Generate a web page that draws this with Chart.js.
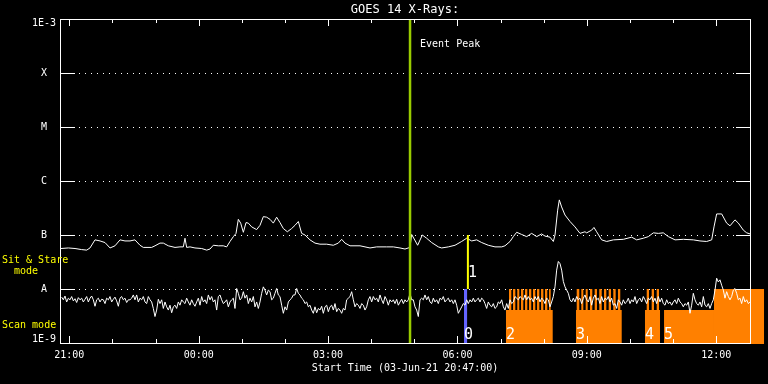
<!DOCTYPE html>
<html><head><meta charset="utf-8">
<script src="https://cdn.jsdelivr.net/npm/chart.js@4.4.1/dist/chart.umd.min.js"></script>
<style>html,body{margin:0;padding:0;background:#000;overflow:hidden}</style>
</head><body>
<canvas id="c" width="768" height="384"></canvas>
<script>
// ---------- DATA (time = minutes after start 03-Jun-21 20:47:00) ----------
const chartTitle = 'GOES 14 X-Rays:';
const xAxisTitle = 'Start Time (03-Jun-21 20:47:00)';
const xMaxMin = 960;
const hourTickMin = [13,73,133,193,253,313,373,433,493,553,613,673,733,793,853,913];
const labeledTickMin = [13,193,373,553,733,913];
const labeledTickText = ['21:00','00:00','03:00','06:00','09:00','12:00'];
const yTickValues = [1e-9,1e-8,1e-7,1e-6,1e-5,1e-4,1e-3];
const yTickLabels = ['1E-9','A','B','C','M','X','1E-3'];

// long channel (1-8 A): times and log10 flux
const longT = [1.4,11.6,20.9,30.1,37.1,41.7,48.7,55.7,62.6,69.6,76.5,83.5,90.4,97.4,104.3,111.3,115.9,127.5,132.2,139.1,
143.8,150.7,160.0,166.9,171.6,173.9,176.2,180.9,187.8,197.1,204.1,208.7,213.3,220.3,227.2,231.9,236.5,241.2,
244.9,248.1,251.4,255.1,258.8,262.0,266.7,273.6,278.3,282.9,287.5,292.2,296.8,301.4,306.1,310.7,316.3,322.3,327.0,331.6,
336.2,340.9,347.8,354.8,361.7,371.0,380.3,387.2,391.9,396.5,403.5,417.4,431.3,440.6,454.5,463.8,473.0,480.0,486.9,
489.3,497.6,504.1,510.1,517.1,526.4,531.0,540.3,549.6,558.8,565.8,572.8,579.7,586.7,595.9,605.2,614.5,619.1,626.1,630.7,
635.4,642.3,649.3,656.2,663.2,670.1,674.8,681.7,686.4,688.7,692.4,694.7,697.9,702.6,709.6,716.5,723.5,730.4,
732.8,739.7,742.9,746.6,753.6,760.6,769.9,783.8,795.4,802.3,811.6,818.6,825.5,832.5,839.4,846.4,855.7,867.3,881.2,890.4,
899.7,906.7,909.9,913.6,920.6,927.5,932.2,939.1,943.8,950.7,955.4,960.0];
const longLogFlux = [-7.25,-7.24,-7.25,-7.27,-7.28,-7.24,-7.09,-7.11,-7.14,-7.24,-7.20,-7.09,-7.11,-7.11,-7.09,-7.19,-7.23,-7.23,-7.20,-7.15,
-7.15,-7.20,-7.23,-7.22,-7.22,-7.06,-7.23,-7.22,-7.24,-7.25,-7.28,-7.26,-7.19,-7.20,-7.20,-7.22,-7.12,-7.03,
-6.97,-6.71,-6.78,-6.95,-6.77,-6.78,-6.85,-6.90,-6.82,-6.66,-6.67,-6.71,-6.78,-6.67,-6.77,-6.88,-6.94,-6.88,-6.82,-6.75,
-6.97,-7.00,-7.09,-7.15,-7.17,-7.17,-7.19,-7.15,-7.08,-7.15,-7.20,-7.20,-7.24,-7.22,-7.22,-7.22,-7.24,-7.26,-7.23,
-6.99,-7.19,-7.00,-7.06,-7.14,-7.22,-7.24,-7.22,-7.19,-7.12,-7.06,-7.11,-7.09,-7.14,-7.19,-7.22,-7.22,-7.20,-7.12,-7.03,
-6.95,-6.99,-7.03,-6.97,-7.03,-6.98,-7.02,-7.04,-7.12,-7.00,-6.54,-6.35,-6.48,-6.63,-6.75,-6.85,-6.97,-6.94,
-6.96,-6.91,-6.86,-6.94,-7.09,-7.12,-7.09,-7.08,-7.04,-7.09,-7.06,-7.03,-6.96,-6.97,-6.96,-7.03,-7.09,-7.08,-7.09,-7.11,
-7.12,-7.09,-6.85,-6.61,-6.61,-6.78,-6.83,-6.72,-6.78,-6.91,-6.96,-6.98];

// short channel (0.5-4 A): regular cadence samples, log10 flux
const shortFirstMin = 2.32, shortCadenceMin = 2.3188;
const shortLogFlux = [
-8.15,-8.20,-8.13,-8.24,-8.17,-8.20,-8.14,-8.22,-8.18,-8.25,-8.16,-8.20,-8.17,-8.24,-8.19,-8.14,-8.24,-8.17,-8.13,-8.20,
-8.32,-8.20,-8.17,-8.24,-8.19,-8.20,-8.27,-8.17,-8.20,-8.14,-8.24,-8.19,-8.15,-8.22,-8.32,-8.17,-8.14,-8.20,-8.17,-8.25,
-8.20,-8.20,-8.17,-8.11,-8.20,-8.11,-8.24,-8.17,-8.20,-8.14,-8.24,-8.27,-8.14,-8.20,-8.24,-8.36,-8.51,-8.39,-8.19,-8.27,
-8.20,-8.36,-8.24,-8.33,-8.39,-8.30,-8.44,-8.33,-8.30,-8.36,-8.24,-8.30,-8.20,-8.24,-8.27,-8.17,-8.24,-8.30,-8.20,-8.27,
-8.32,-8.24,-8.17,-8.30,-8.14,-8.24,-8.20,-8.27,-8.11,-8.20,-8.14,-8.24,-8.20,-8.39,-8.14,-8.11,-8.20,-8.27,-8.24,-8.20,
-8.33,-8.24,-8.20,-8.17,
-8.36,-7.99,-8.08,-8.20,-8.17,-8.05,-8.17,-8.11,-8.27,-8.17,-8.24,-8.14,-8.33,-8.24,-8.36,-8.24,-8.08,-7.96,-8.02,-8.11,
-8.02,-8.05,-8.20,-8.17,-8.08,-7.99,-8.11,-8.14,-8.30,-8.45,-8.33,-8.39,-8.24,-8.20,-8.17,-8.11,-8.11,-7.99,-8.08,-8.11,
-8.17,-8.20,-8.27,-8.24,-8.33,-8.30,-8.39,-8.45,-8.33,-8.44,-8.36,-8.39,-8.32,-8.45,-8.33,-8.30,-8.42,-8.33,-8.30,-8.39,
-8.27,-8.42,-8.36,-8.39,-8.45,-8.36,-8.39,-8.20,-8.17,-8.14,-8.05,-8.20,-8.33,-8.27,-8.30,-8.36,-8.27,-8.30,-8.39,-8.33,
-8.20,-8.14,-8.24,-8.14,-8.20,-8.17,-8.24,-8.11,-8.20,-8.27,-8.14,-8.20,-8.30,-8.20,-8.24,-8.20,-8.27,-8.19,-8.30,-8.24,
-8.19,-8.27,-8.20,-8.24,-8.20,
-8.08,-8.20,-8.20,-8.33,-8.39,-8.51,-8.20,-8.17,-8.20,-8.11,-8.20,-8.14,-8.24,-8.27,-8.17,-8.24,-8.20,-8.27,-8.17,-8.20,
-8.14,-8.24,-8.20,-8.17,-8.24,-8.20,-8.27,-8.20,-8.30,-8.45,-8.39,-8.33,-8.27,-8.30,-8.20,-8.27,-8.20,-8.24,-8.17,-8.24,
-8.20,-8.17,-8.24,-8.17,-8.20,-8.27,-8.36,-8.24,-8.30,-8.33,-8.27,-8.36,-8.33,-8.24,-8.27,-8.20,-8.33,-8.39,-8.27,-8.36,
-8.20,-8.27,-8.24,-8.14,-8.17,-8.20,-8.14,-8.17,-8.20,-8.11,-8.20,-8.14,-8.20,-8.17,-8.24,-8.14,-8.20,-8.14,-8.24,-8.17,
-8.20,-8.27,-8.17,-8.20,-8.33,-8.24,-8.14,-7.96,-7.65,-7.49,-7.53,-7.65,-7.86,-7.96,-8.02,-8.08,-8.20,-8.24,-8.17,-8.24,
-8.14,-8.20,-8.17,-8.27,-8.17,
-8.11,-8.20,-8.24,-8.14,-8.30,-8.17,-8.11,-8.20,-8.17,-8.27,-8.14,-8.24,-8.17,-8.20,-8.14,-8.24,-8.17,-8.30,-8.27,-8.36,
-8.20,-8.24,-8.30,-8.20,-8.27,-8.24,-8.17,-8.27,-8.20,-8.24,-8.14,-8.27,-8.20,-8.17,-8.24,-8.14,-8.20,-8.27,-8.17,-8.20,
-8.14,-8.24,-8.17,-8.27,-8.14,-8.24,-8.17,-8.27,-8.30,-8.20,-8.27,-8.24,-8.30,-8.24,-8.20,-8.27,-8.17,-8.24,-8.27,-8.33,
-8.27,-8.30,-8.24,-8.45,-8.30,-8.08,-8.20,-8.27,-8.30,-8.24,-8.33,-8.14,-8.30,-8.33,-8.27,-8.36,-8.27,-8.20,-8.02,-7.80,
-7.87,-7.83,-7.93,-8.02,-8.17,-8.05,-8.14,-8.20,-8.14,-8.02,-7.99,-8.08,-8.20,-8.17,-8.27,-8.14,-8.24,-8.20,-8.27,-8.24];

// events and instrument modes (minutes after start)
const eventPeakMin = 487;
const sitStareLineMin = 567.5;
const sitStareLineFlux = [1e-8, 1e-7];
const modeZeroSegment = [[562.1, 566.7]];
const scanSegments = [[620.5,685.5],[717.9,781.5],[813.9,834.8],[840.4,909.9]];
const sitSegments = [[624.7,627.9],[630.3,633.5],[636.2,639.0],[641.4,644.6],[647.0,650.2],[652.5,655.7],[658.1,661.3],
[663.7,666.9],[669.3,672.5],[674.8,678.0],[680.4,682.7],
[718.9,722.5],[725.3,728.1],[731.4,734.2],[737.4,740.6],[743.9,747.1],[750.3,753.7],[756.9,760.1],[763.4,766.6],[769.8,773.1],[776.3,779.5],
[816.3,819.5],[823.2,826.4],[830.2,833.4],
[909.9,979.5]];
const blockNames = ['2','3','4','5'];
const modeLevel = {scan: 0.61, sit: 1.0};

// ---------- BUILD ----------
const FONT = 'DejaVu Sans Mono';
const ORANGE = '#ff8000', BLUE = '#6464ff', GREEN = '#99cc00', YELLOW = '#ffff00';

function stepSeries(segs, level) {
  const pts = [{x: 0, y: 0}];
  segs.forEach(([s, e]) => { pts.push({x: s, y: level}); pts.push({x: e, y: 0}); });
  return pts;
}
const shortData = shortLogFlux.map((v, i) => ({x: shortFirstMin + i * shortCadenceMin, y: Math.pow(10, v)}));
const longData = longLogFlux.map((v, i) => ({x: longT[i], y: Math.pow(10, v)}));

const fillDs = (label, data, color) => ({
  label, data, yAxisID: 'yMode', stepped: 'before', fill: 'origin',
  backgroundColor: color, borderColor: 'rgba(0,0,0,0)', borderWidth: 0, pointRadius: 0, order: 5
});

const decor = {
  id: 'decor',
  beforeDraw(chart) {
    const {ctx, width, height} = chart;
    ctx.save(); ctx.fillStyle = '#000'; ctx.fillRect(0, 0, width, height); ctx.restore();
  },
  beforeDatasetsDraw(chart) {
    const {ctx, chartArea: a, scales: {y}} = chart;
    const L = Math.round(a.left), R = Math.round(a.right);
    ctx.save(); ctx.fillStyle = '#fff';
    yTickValues.slice(1, -1).forEach(v => {
      const row = Math.round(y.getPixelForValue(v));
      for (let px = L + 19; px < R - 14; px += 6) ctx.fillRect(px, row, 1, 1);
    });
    ctx.restore();
  },
  afterDatasetsDraw(chart) {
    const {ctx, chartArea: a, scales: {x, y, yMode}} = chart;
    const L = Math.round(a.left), R = Math.round(a.right), T = Math.round(a.top), B = Math.round(a.bottom);
    ctx.save();
    // mode fill that runs past the right edge of the frame
    ctx.fillStyle = ORANGE;
    sitSegments.forEach(([s, e]) => {
      if (e > xMaxMin) {
        const x1 = x.getPixelForValue(Math.max(s, xMaxMin)), x2 = x.getPixelForValue(e);
        const yt = yMode.getPixelForValue(modeLevel.sit);
        ctx.fillRect(x1, yt, x2 - x1, B + 1 - yt);
      }
    });
    // frame
    ctx.fillStyle = '#fff';
    ctx.fillRect(L, T, R - L + 1, 1);
    ctx.fillRect(L, B, R - L + 1, 1);
    ctx.fillRect(L, T, 1, B - T + 1);
    ctx.fillRect(R, T, 1, B - T + 1);
    // y stubs
    yTickValues.slice(1, -1).forEach(v => {
      const row = Math.round(y.getPixelForValue(v));
      ctx.fillRect(L, row, 15, 1);
      ctx.fillRect(R - 14, row, 15, 1);
    });
    // x ticks (inside)
    hourTickMin.forEach(t => {
      const col = Math.round(x.getPixelForValue(t));
      const len = labeledTickMin.includes(t) ? 7 : 4;
      ctx.fillRect(col, B - len, 1, len);
      ctx.fillRect(col, T, 1, len);
    });
    // texts
    ctx.textBaseline = 'alphabetic'; ctx.textAlign = 'left';
    ctx.font = '10px "' + FONT + '"';
    ctx.fillText('Event Peak', x.getPixelForValue(eventPeakMin) + 10, T + 28);
    ctx.fillStyle = YELLOW;
    ctx.fillText('Sit & Stare', 2, 263);
    ctx.fillText('  mode', 2, 274);
    ctx.fillText('Scan mode', 2, 328);
    ctx.fillStyle = '#fff';
    ctx.font = '15px "' + FONT + '"';
    ctx.fillText('0', x.getPixelForValue(modeZeroSegment[0][0]), B - 4);
    ctx.fillText('1', x.getPixelForValue(sitStareLineMin), y.getPixelForValue(1e-8) - 12);
    scanSegments.forEach(([s], i) => ctx.fillText(blockNames[i], x.getPixelForValue(s), B - 4));
    ctx.restore();
  }
};

new Chart(document.getElementById('c'), {
  type: 'line',
  data: {
    datasets: [
      {label: 'Event peak', data: [{x: eventPeakMin, y: 1e-9}, {x: eventPeakMin, y: 1e-3}], borderColor: GREEN, borderWidth: 2.5, pointRadius: 0, order: 0},
      {label: 'Sit & stare start', data: sitStareLineFlux.map(v => ({x: sitStareLineMin, y: v})), borderColor: YELLOW, borderWidth: 2, pointRadius: 0, order: 0},
      {label: '0.5-4 A', data: shortData, borderColor: '#fff', borderWidth: 1, pointRadius: 0, tension: 0, order: 1},
      {label: '1-8 A', data: longData, borderColor: '#fff', borderWidth: 1, pointRadius: 0, tension: 0, order: 1},
      fillDs('Mode 0', stepSeries(modeZeroSegment, modeLevel.sit), BLUE),
      fillDs('Scan mode', stepSeries(scanSegments, modeLevel.scan), ORANGE),
      fillDs('Sit & Stare mode', stepSeries(sitSegments, modeLevel.sit), ORANGE)
    ]
  },
  options: {
    responsive: false, animation: false, devicePixelRatio: 1, events: [],
    layout: {padding: {left: 0, right: 18, top: 0, bottom: 0}},
    plugins: {
      legend: {display: false}, tooltip: {enabled: false},
      title: {display: true, text: chartTitle, color: '#fff', fullSize: false,
        font: {family: FONT, size: 12, weight: 'normal', lineHeight: 1.2}, padding: {top: 3, bottom: 1.6}}
    },
    scales: {
      x: {
        type: 'linear', position: 'bottom', min: 0, max: xMaxMin,
        afterBuildTicks: s => { s.ticks = hourTickMin.map(v => ({value: v})); },
        afterFit: s => { s.height = 41; },
        grid: {display: false, drawTicks: false}, border: {display: false},
        ticks: {autoSkip: false, maxRotation: 0, color: '#fff', padding: 6,
          font: {family: FONT, size: 10},
          callback: v => { const i = labeledTickMin.indexOf(v); return i >= 0 ? labeledTickText[i] : ''; }},
        title: {display: true, text: xAxisTitle, color: '#fff', font: {family: FONT, size: 10}, padding: {top: 0, bottom: 10}}
      },
      y: {
        type: 'logarithmic', position: 'left', min: 1e-9, max: 1e-3,
        afterBuildTicks: s => { s.ticks = yTickValues.map(v => ({value: v})); },
        afterFit: s => { s.width = 60; },
        grid: {display: false, drawTicks: false}, border: {display: false},
        ticks: {autoSkip: false, color: '#fff', padding: 4, crossAlign: 'center',
          font: {family: FONT, size: 10, lineHeight: 0.8},
          callback: (v, i) => i === 0 ? [yTickLabels[0], ''] : (i === yTickLabels.length - 1 ? ['', yTickLabels[i]] : yTickLabels[i])}
      },
      yMode: {type: 'linear', display: false, min: 0, max: 6}
    }
  },
  plugins: [decor]
});
</script>
</body></html>
